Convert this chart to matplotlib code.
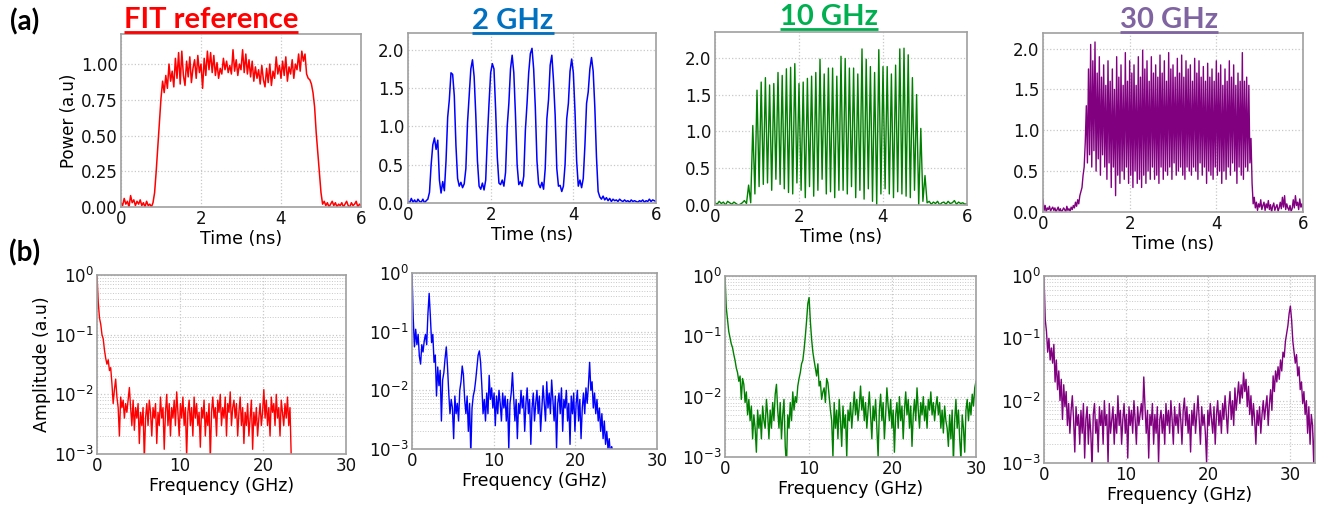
import numpy as np
import matplotlib
matplotlib.use("Agg")
import matplotlib.pyplot as plt
from matplotlib.lines import Line2D

# ---------------- data ----------------
titles = ["FIT reference", "2 GHz", "10 GHz", "30 GHz"]
title_colors = ["#ff0000", "#0070c0", "#00b050", "#8064a2"]
line_colors = ["#ff0000", "#0000ff", "#008000", "#800080"]

# time traces: power (a.u.)
dt_fit = 0.04
power_fit = [
    0.03, 0.01, 0.06, 0.02, 0.04, 0.00, 0.08, 0.03, 0.05, 0.01,
    0.04, 0.02, 0.05, 0.01, 0.03, 0.00, 0.04, 0.01, 0.02, 0.00,
    0.03, 0.10, 0.25, 0.42, 0.58, 0.76, 0.88, 0.80, 0.92, 0.83,
    1.00, 0.88, 0.95, 0.84, 1.04, 0.90, 1.08, 0.86, 1.09, 0.92,
    0.85, 1.02, 0.91, 1.05, 0.87, 0.97, 1.03, 0.90, 1.06, 0.94,
    1.00, 0.83, 1.04, 0.92, 1.09, 0.96, 1.08, 0.94, 1.06, 0.92,
    1.01, 0.90, 0.97, 0.93, 1.04, 0.96, 1.02, 0.94, 0.99, 0.93,
    1.10, 0.95, 1.03, 0.92, 1.00, 0.96, 1.10, 0.94, 1.07, 0.93,
    1.03, 0.91, 1.02, 0.88, 0.98, 0.90, 0.96, 0.86, 0.99, 0.89,
    0.84, 0.97, 0.87, 1.00, 0.85, 0.95, 0.90, 1.05, 0.93, 0.99,
    0.90, 1.02, 0.92, 1.05, 0.88, 0.98, 0.93, 1.03, 0.90, 1.00,
    0.96, 1.07, 0.95, 1.09, 1.02, 1.07, 0.93, 0.90, 0.89, 0.86,
    0.80, 0.70, 0.52, 0.38, 0.24, 0.10, 0.02, 0.04, 0.01, 0.03,
    0.00, 0.02, 0.04, 0.01, 0.03, 0.00, 0.02, 0.01, 0.03, 0.00,
    0.02, 0.04, 0.01, 0.00, 0.03, 0.01, 0.02, 0.04, 0.00, 0.02, 0.01,
]

dt_2g = 0.04
power_2g = [
    0.02, 0.00, 0.06, 0.01, 0.04, 0.00, 0.05, 0.02, 0.01, 0.05,
    0.00, 0.03, 0.05, 0.14, 0.50, 0.76, 0.85, 0.70, 0.82, 0.30,
    0.13, 0.28, 0.16, 0.55, 1.12, 1.35, 1.70, 1.68, 1.40, 0.75,
    0.32, 0.22, 0.27, 0.20, 0.25, 0.45, 1.05, 1.40, 1.75, 1.87,
    1.65, 1.15, 0.55, 0.22, 0.18, 0.26, 0.17, 0.30, 0.85, 1.30,
    1.70, 1.82, 1.75, 1.22, 0.60, 0.26, 0.24, 0.30, 0.22, 0.40,
    1.00, 1.30, 1.75, 1.93, 1.70, 1.15, 0.50, 0.24, 0.28, 0.22,
    0.35, 0.95, 1.30, 1.70, 1.95, 2.02, 1.75, 1.25, 0.55, 0.25,
    0.20, 0.27, 0.18, 0.45, 1.10, 1.35, 1.80, 1.93, 1.60, 1.15,
    0.45, 0.22, 0.23, 0.15, 0.22, 0.50, 1.10, 1.30, 1.72, 1.88,
    1.70, 1.20, 0.55, 0.22, 0.30, 0.20, 0.32, 0.75, 1.30, 1.45,
    1.75, 1.90, 1.72, 1.25, 0.60, 0.15, 0.08, 0.05, 0.09, 0.04,
    0.07, 0.03, 0.06, 0.02, 0.05, 0.03, 0.04, 0.02, 0.05, 0.03,
    0.02, 0.04, 0.02, 0.03, 0.01, 0.04, 0.02, 0.03, 0.02, 0.01,
    0.03, 0.02, 0.04, 0.01, 0.03, 0.02, 0.05, 0.02, 0.04, 0.03, 0.02,
]

dt_10g = 0.05
power_10g = [
    0.03, 0.01, 0.05, 0.02, 0.04, 0.00, 0.05, 0.03, 0.01, 0.04,
    0.02, 0.00, 0.01, 0.03, 0.06, 0.02, 0.27, 0.03,
    1.08, 0.15, 1.56, 0.25, 1.67, 0.28, 1.73, 0.30, 1.63, 0.20,
    1.65, 0.35, 1.80, 0.28, 1.76, 0.22, 1.85, 0.17, 1.87, 0.15,
    1.92, 0.30, 1.65, 0.20, 1.67, 0.10, 1.72, 0.25, 1.75, 0.12,
    1.80, 0.20, 1.98, 0.35, 1.78, 0.15, 1.86, 0.18, 1.86, 0.10,
    1.75, 0.20, 2.02, 0.20, 1.99, 0.15, 1.86, 0.25, 1.86, 0.10,
    1.78, 0.20, 2.12, 0.08, 1.98, 0.22, 1.88, 0.05, 1.80, 0.00,
    2.11, 0.15, 1.88, 0.22, 1.88, 0.15, 1.78, 0.10, 1.90, 0.18,
    2.12, 0.15, 2.13, 0.12, 2.04, 0.10, 1.73, 0.20, 1.50, 0.00,
    1.04, 0.05, 0.40,
    0.03, 0.05, 0.01, 0.04, 0.02, 0.05, 0.00, 0.03, 0.04, 0.01,
    0.05, 0.02, 0.03, 0.06, 0.01, 0.04, 0.02, 0.03, 0.01, 0.02,
]

dt_30g = 0.025
power_30g = [
    0.15, 0.02, 0.08, 0.00, 0.05, 0.03, 0.07, 0.01, 0.04, 0.06,
    0.02, 0.05, 0.00, 0.03, 0.06, 0.01, 0.04, 0.00, 0.02, 0.05,
    0.03, 0.00, 0.07, 0.02, 0.04, 0.01, 0.06, 0.03, 0.08, 0.05,
    0.12, 0.07, 0.15, 0.10, 0.20, 0.25, 0.30, 0.45, 0.55, 0.85,
    1.30, 0.60, 1.75, 0.70, 2.05, 0.55, 1.85, 0.75, 2.08, 0.50,
    1.70, 0.65, 1.90, 0.45, 1.65, 0.70, 1.80, 0.55, 1.55, 0.40,
    1.85, 0.60, 1.60, 0.30, 1.75, 0.55, 1.50, 0.20, 1.90, 0.45,
    1.65, 0.35, 1.80, 0.50, 1.55, 0.40, 1.95, 0.55, 1.60, 0.35,
    1.85, 0.45, 1.70, 0.30, 1.80, 0.50, 1.55, 0.35, 1.90, 0.40,
    1.65, 0.30, 1.98, 0.45, 1.75, 0.35, 1.85, 0.50, 1.60, 0.40,
    1.90, 0.55, 1.70, 0.40, 1.80, 0.45, 1.65, 0.35, 1.92, 0.55,
    1.70, 0.40, 1.85, 0.50, 1.60, 0.45, 1.95, 0.55, 1.75, 0.40,
    1.80, 0.60, 1.65, 0.45, 1.88, 0.50, 1.70, 0.55, 1.92, 0.45,
    1.65, 0.40, 1.85, 0.55, 1.75, 0.50, 1.80, 0.45, 1.60, 0.55,
    1.88, 0.50, 1.70, 0.40, 1.85, 0.60, 1.65, 0.45, 1.78, 0.55,
    1.60, 0.35, 1.82, 0.50, 1.65, 0.45, 1.75, 0.40, 1.60, 0.55,
    1.85, 0.45, 1.70, 0.50, 1.80, 0.35, 1.55, 0.50, 1.75, 0.40,
    1.60, 0.55, 1.85, 0.45, 1.65, 0.60, 1.80, 0.50, 1.55, 0.35,
    1.70, 0.55, 1.60, 0.45, 1.95, 0.40, 1.60, 0.55, 1.65, 0.50,
    1.55, 0.60, 0.90,
    0.35, 0.10, 0.18, 0.05, 0.12, 0.02, 0.10, 0.06, 0.15, 0.03,
    0.08, 0.12, 0.02, 0.10, 0.05, 0.14, 0.03, 0.09, 0.00, 0.07,
    0.11, 0.02, 0.06, 0.09, 0.01, 0.05, 0.12, 0.04, 0.18, 0.06,
    0.20, 0.03, 0.10, 0.05, 0.02, 0.08, 0.01, 0.04, 0.15, 0.05,
    0.20, 0.08, 0.12, 0.03, 0.16, 0.06, 0.10, 0.02,
]

# spectra: amplitude in units of 1e-3 (a.u.), frequency step in GHz
df = 0.15
amp_fit_milli = [
    1000, 350, 190, 150, 100, 85, 55, 40, 32, 38,
    25, 28, 15, 7, 12, 18, 9, 6, 2, 9,
    6, 8, 4, 7, 5, 8, 13, 6, 3, 8,
    2.5, 6, 4, 7, 1.5, 5, 3, 6, 0.8, 4,
    7, 3, 8, 5, 2, 6, 4, 7, 1.5, 5,
    3, 9, 4, 6, 1.2, 5, 10, 3, 7, 2,
    6, 4, 8, 3, 11, 5, 2, 7, 4, 9,
    3, 6, 0.9, 5, 8, 3, 6, 2, 9, 4,
    7, 3, 5, 1.3, 6, 4, 8, 2, 5, 3,
    7, 0.8, 5, 9, 4, 6, 2, 8, 5, 10,
    3, 6, 4, 9, 2, 7, 5, 11, 3, 6,
    8, 4, 7, 2, 5, 9, 3, 6, 1.5, 5,
    3, 7, 2, 4, 8, 1.2, 5, 3, 6, 2,
    4, 7, 3, 5, 12, 4, 8, 3, 6, 2,
    9, 5, 7, 3, 10, 4, 6, 2, 8, 5,
    3, 7, 4, 9, 3, 6, 0.9,
]
amp_2g_milli = [
    1000, 170, 55, 110, 60, 90, 38, 28, 60, 45,
    70, 90, 60, 200, 450, 180, 65, 90, 30, 40,
    8, 25, 12, 22, 3, 15, 20, 35, 55, 25,
    9, 4, 7, 5, 1.5, 8, 4, 6, 3, 10,
    14, 26, 18, 7, 4, 8, 2, 6, 0.8, 5,
    8, 10, 15, 25, 40, 47, 30, 12, 4, 7,
    3, 9, 4, 18, 7, 11, 5, 9, 2.5, 8,
    4, 10, 6, 3, 9, 5, 8, 3, 7, 1.0,
    6, 9, 20, 8, 3, 7, 1.5, 6, 4, 10,
    5, 8, 2, 6, 11, 4, 7, 1.2, 5, 9,
    3, 6, 10, 4, 8, 2, 5, 12, 6, 3,
    14, 5, 9, 4, 15, 7, 3, 8, 1.0, 6,
    9, 4, 11, 2, 7, 5, 10, 3, 6, 1.2,
    8, 4, 9, 2, 6, 10, 3, 7, 1.5, 5,
    9, 4, 11, 6, 12, 30, 10, 14, 5, 9,
    4, 7, 3, 5, 2, 4, 1.5, 3, 1.2, 2,
    1.0, 1.5, 0.8, 1.1, 0.9, 0.7, 0.8,
]
amp_10g_milli = [
    1000, 300, 190, 120, 95, 75, 65, 50, 40, 30,
    25, 18, 22, 9, 20, 16, 8, 12, 5, 9,
    4, 7, 2, 5, 3, 1.2, 6, 3, 5, 2,
    7, 4, 3, 9, 5, 2, 6, 3, 8, 4,
    11, 16, 6, 3, 8, 2, 5, 9, 1.5, 0.7,
    5, 3, 8, 4, 12, 6, 10, 8, 15, 20,
    25, 35, 40, 60, 100, 180, 350, 440, 180, 90,
    55, 40, 30, 22, 35, 15, 18, 9, 12, 14,
    8, 20, 17, 10, 6, 4, 1.0, 8, 3, 6,
    2, 9, 4, 1.5, 7, 3, 5, 1.0, 6, 4,
    8, 3, 6, 12, 5, 9, 4, 7, 15, 6,
    10, 4, 8, 3, 6, 12, 5, 2, 7, 4,
    9, 3, 1.0, 6, 11, 4, 8, 2, 5, 14,
    7, 4, 9, 3, 6, 1.2, 5, 8, 3, 10,
    4, 7, 2, 6, 12, 5, 9, 3, 7, 1.5,
    5, 9, 4, 14, 6, 3, 8, 5, 10, 4,
    7, 3, 9, 6, 12, 5, 8, 4, 7, 10,
    5, 8, 3, 6, 2.5, 7, 4, 3, 1.5, 5,
    2, 6, 0.8, 4, 9, 3, 6, 2, 0.9, 5,
    3, 1.2, 6, 9, 4, 8, 5, 11, 7, 14, 18,
]
amp_30g_milli = [
    1000, 200, 130, 60, 100, 45, 70, 40, 80, 20,
    45, 15, 30, 10, 22, 5, 18, 8, 14, 4,
    9, 3, 7, 12, 5, 1.5, 8, 4, 6, 2,
    7, 3, 9, 1.2, 5, 8, 2, 6, 3, 0.8,
    6, 9, 3, 5, 1.5, 8, 4, 7, 2, 10,
    4, 6, 1.0, 9, 3, 5, 8, 2, 6, 3,
    12, 4, 7, 2, 5, 9, 3, 6, 1.2, 8,
    4, 7, 3, 10, 5, 2, 8, 4, 6, 9,
    5, 24, 8, 3, 7, 1.2, 6, 4, 9, 2,
    6, 3, 8, 1.0, 5, 7, 3, 6, 2, 9,
    4, 7, 3, 10, 5, 2, 8, 4, 6, 3,
    9, 5, 2, 7, 11, 4, 8, 3, 6, 1.5,
    7, 4, 9, 3, 6, 12, 5, 2, 8, 4,
    6, 3, 1.0, 7, 4, 9, 5, 3, 8, 2,
    6, 10, 4, 7, 3, 9, 5, 12, 6, 3,
    8, 14, 5, 10, 4, 16, 7, 12, 20, 9,
    18, 11, 28, 14, 22, 8, 17, 6, 12, 4,
    9, 5, 2, 7, 4, 8, 3, 6, 10, 5,
    8, 12, 4, 9, 15, 7, 25, 14, 30, 20,
    35, 22, 45, 30, 60, 50, 90, 120, 160, 250,
    330, 200, 90, 60, 40, 55, 25, 35, 15, 20,
    9, 14, 6, 10, 3, 8, 2, 6, 4, 0.9, 5,
]

time_ticks = [[0, 2, 4, 6]] * 4
power_ticks = [[0, 0.25, 0.5, 0.75, 1.0], [0, 0.5, 1.0, 1.5, 2.0],
               [0, 0.5, 1.0, 1.5, 2.0], [0, 0.5, 1.0, 1.5, 2.0]]
power_ylim = [1.21, 2.22, 2.35, 2.19]
freq_xlim = [30, 30, 30, 33]
freq_ticks = [0, 10, 20, 30]

# ---------------- layout ----------------
W, H = 1329, 512
fig = plt.figure(figsize=(W / 100, H / 100), dpi=100)


def px_axes(l, t, r, b):
    return fig.add_axes([l / W, 1 - b / H, (r - l) / W, (b - t) / H])


top_boxes = [(121, 34, 361, 207), (408, 33, 656, 203),
             (715, 32, 967, 205), (1043, 33, 1303, 212)]
bot_boxes = [(97, 275, 346, 454), (412, 273, 657, 449),
             (725, 276, 976, 457), (1044, 276, 1315, 463)]

SPINE = "#a0a0a0"
GRID = "#c8c8c8"


def style(ax):
    for s in ax.spines.values():
        s.set_color(SPINE)
        s.set_linewidth(1.2)
    ax.tick_params(which="both", length=0, pad=2.5, labelsize=12,
                   colors="#111111")
    ax.grid(True, which="major", linestyle=":", color=GRID, linewidth=0.9)
    ax.set_axisbelow(True)


traces = [(dt_fit, power_fit), (dt_2g, power_2g),
          (dt_10g, power_10g), (dt_30g, power_30g)]
spectra = [amp_fit_milli, amp_2g_milli, amp_10g_milli, amp_30g_milli]

for k in range(4):
    ax = px_axes(*top_boxes[k])
    dt, p = traces[k]
    t = np.arange(len(p)) * dt
    ax.plot(t, p, color=line_colors[k], lw=1.1 if k < 2 else 1.0)
    ax.set_xlim(0, 6)
    ax.set_ylim(0, power_ylim[k])
    ax.set_xticks(time_ticks[k])
    ax.set_yticks(power_ticks[k])
    if k == 0:
        ax.set_yticklabels(["0.00", "0.25", "0.50", "0.75", "1.00"])
        ax.set_ylabel("Power (a.u)", fontsize=12, labelpad=2)
    ax.set_xlabel("Time (ns)", fontsize=12.5, labelpad=1)
    style(ax)

    bx = px_axes(*bot_boxes[k])
    a = np.array(spectra[k]) * 1e-3
    f = np.arange(len(a)) * df
    bx.plot(f, a, color=line_colors[k], lw=1.0)
    bx.set_yscale("log")
    bx.set_ylim(1e-3, 1.0)
    bx.set_xlim(0, freq_xlim[k])
    bx.set_xticks(freq_ticks)
    bx.set_xlabel("Frequency (GHz)", fontsize=12.5, labelpad=1)
    if k == 0:
        bx.set_ylabel("Amplitude (a.u)", fontsize=12.5, labelpad=2)
    style(bx)
    bx.grid(True, which="minor", axis="y", linestyle=":", color=GRID,
            linewidth=0.7)

# panel letters
fig.text(25 / W, 1 - 22 / H, "(a)", fontsize=20, fontweight="bold",
         family="Lato", ha="center", va="center")
fig.text(25 / W, 1 - 253 / H, "(b)", fontsize=20, fontweight="bold",
         family="Lato", ha="center", va="center")

# column titles with underline
title_x = [211, 513, 829, 1169]
title_base = [28, 29, 25, 28]
texts = []
for k in range(4):
    tx = fig.text(title_x[k] / W, 1 - title_base[k] / H, titles[k],
                  fontsize=21, fontweight="bold", family="Lato",
                  color=title_colors[k], ha="center", va="baseline")
    texts.append(tx)

fig.canvas.draw()
r = fig.canvas.get_renderer()
for k, tx in enumerate(texts):
    bb = tx.get_window_extent(renderer=r)
    y = H - (title_base[k] + 4)
    fig.add_artist(Line2D([bb.x0 / W, bb.x1 / W], [y / H, y / H],
                          transform=fig.transFigure, color=title_colors[k],
                          lw=2.0, solid_capstyle="butt"))

fig.savefig("out.png", dpi=100)
